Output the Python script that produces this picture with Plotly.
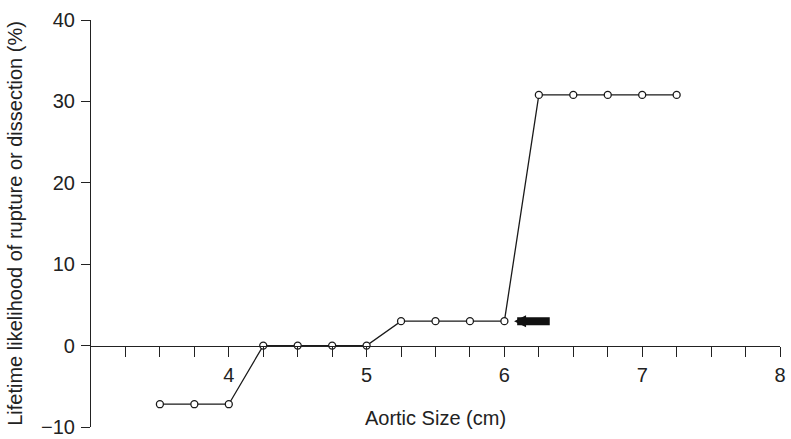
import plotly.graph_objects as go

# Data
aortic_size = [3.5, 3.75, 4.0, 4.25, 4.5, 4.75, 5.0, 5.25, 5.5, 5.75, 6.0, 6.25, 6.5, 6.75, 7.0, 7.25]
likelihood = [-7.2, -7.2, -7.2, 0, 0, 0, 0, 3.0, 3.0, 3.0, 3.0, 30.8, 30.8, 30.8, 30.8, 30.8]
x_tick_vals = [3.25 + 0.25 * i for i in range(20)]
x_tick_text = [str(int(v)) if float(v).is_integer() else "" for v in x_tick_vals]
y_tick_vals = [-10, 0, 10, 20, 30, 40]
y_tick_text = ["\u221210", "0", "10", "20", "30", "40"]
arrow_tip = (6.07, 3.0)
arrow_tail = (6.34, 3.0)

fig = go.Figure()
fig.add_trace(go.Scatter(
    x=aortic_size, y=likelihood, mode="lines+markers",
    line=dict(color="#1a1a1a", width=1.3),
    marker=dict(symbol="circle", size=7, color="white",
                line=dict(color="#1a1a1a", width=1.3)),
    showlegend=False, cliponaxis=False,
))

fig.add_annotation(
    x=arrow_tip[0], y=arrow_tip[1], ax=arrow_tail[0], ay=arrow_tail[1],
    xref="x", yref="y", axref="x", ayref="y",
    text="", showarrow=True, arrowhead=2, arrowsize=0.3, arrowwidth=8,
    arrowcolor="#111111",
)

font = dict(family="Liberation Sans, Arial, sans-serif", size=20, color="#222222")

fig.update_layout(
    width=791, height=439,
    margin=dict(l=91, r=11, t=20, b=12),
    plot_bgcolor="white", paper_bgcolor="white",
    font=font,
    xaxis=dict(
        range=[3, 8], anchor="free", position=0.2, automargin=False,
        tickmode="array", tickvals=x_tick_vals, ticktext=x_tick_text,
        ticks="outside", ticklen=10, tickwidth=1.2, tickcolor="#222222",
        showline=True, linecolor="#222222", linewidth=1.2,
        showgrid=False, zeroline=False,
        tickfont=font, ticklabelstandoff=1,
        title=dict(text="Aortic Size (cm)", font=font, standoff=26),
    ),
    yaxis=dict(
        range=[-10, 40], domain=[0, 1], automargin=False,
        tickmode="array", tickvals=y_tick_vals, ticktext=y_tick_text,
        ticks="outside", ticklen=9, tickwidth=1.2, tickcolor="#222222",
        showline=True, linecolor="#222222", linewidth=1.2,
        showgrid=False, zeroline=False,
        tickfont=font, ticklabelstandoff=2,
        title=dict(text="Lifetime likelihood of rupture or dissection (%)", font=font, standoff=12),
    ),
)

fig.write_html("out.html")
